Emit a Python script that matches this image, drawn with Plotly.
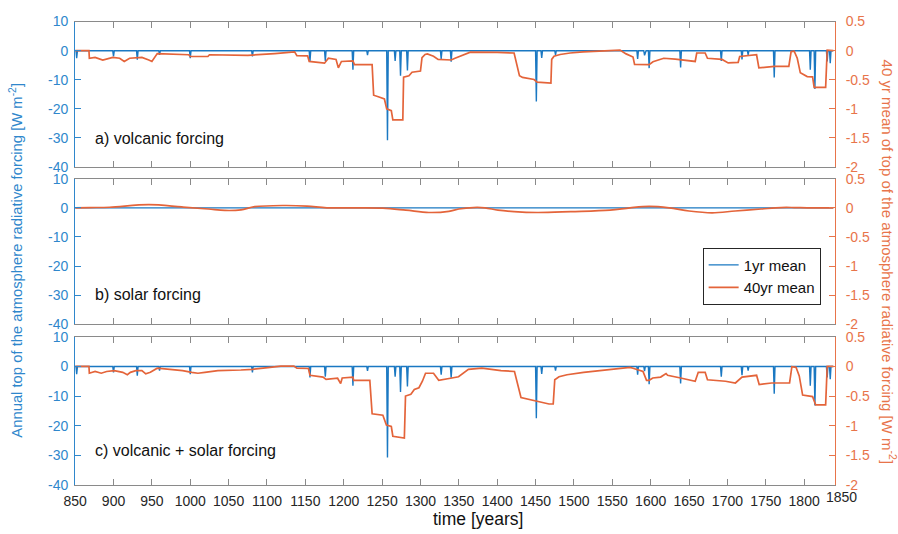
import numpy as np
import plotly.graph_objects as go

# ---------------- data ----------------
# 1-yr volcanic forcing: eruption years and annual peak forcing [W m-2]; zero otherwise
spike_years = [852, 900, 931, 960, 1000, 1081, 1156, 1176, 1212, 1231, 1257, 1267, 1274, 1283,
               1327, 1340, 1451, 1458, 1476, 1583, 1592, 1598, 1639, 1692, 1719, 1727, 1761,
               1808, 1814, 1830, 1834]
spike_values = [-2.6, -2.0, -3.1, -1.4, -2.6, -2.0, -3.7, -3.5, -6.5, -1.5, -30.8, -3.5, -8.6, -6.8,
                -2.8, -3.8, -17.5, -2.5, -1.4, -2.8, -1.6, -6.0, -5.8, -3.5, -3.0, -1.4, -9.2,
                -6.5, -13.2, -3.7, -4.3]
first_year, last_year = 850, 1838

# 40-yr mean, volcanic [W m-2] (right axis)
volc40_years = [850, 868, 868.5, 876, 886, 899, 908, 914, 921, 930, 937, 946, 950, 957, 975, 998,
                1000, 1023, 1025, 1075, 1110, 1130, 1136, 1139, 1153, 1155, 1175, 1180, 1190, 1193,
                1197, 1212, 1214, 1237, 1239, 1246, 1253, 1256, 1262, 1264, 1277, 1278, 1285, 1289,
                1300, 1302, 1306, 1309, 1317, 1323, 1340, 1345, 1360, 1365, 1400, 1422, 1429, 1433,
                1448, 1452, 1470, 1471, 1474, 1482, 1495, 1512, 1540, 1560, 1568, 1577, 1579, 1598,
                1603, 1611, 1617, 1632, 1658, 1660, 1671, 1674, 1693, 1701, 1714, 1716, 1738, 1741,
                1761, 1780, 1783, 1787, 1791, 1795, 1804, 1811, 1813, 1828, 1830, 1838]
volc40_values = [0, 0, -0.13, -0.115, -0.16, -0.115, -0.13, -0.185, -0.13, -0.115, -0.115, -0.16,
                 -0.185, -0.05, -0.06, -0.07, -0.10, -0.10, -0.07, -0.08, -0.05, -0.02, -0.02,
                 -0.085, -0.09, -0.185, -0.215, -0.13, -0.15, -0.295, -0.185, -0.175, -0.24, -0.24,
                 -0.765, -0.795, -0.83, -1.0, -1.03, -1.19, -1.19, -0.455, -0.43, -0.37, -0.35,
                 -0.12, -0.065, -0.055, -0.095, -0.15, -0.16, -0.13, -0.055, -0.025, -0.03, -0.04,
                 -0.43, -0.46, -0.495, -0.54, -0.555, -0.15, -0.095, -0.065, -0.04, -0.02, -0.005,
                 0.01, -0.055, -0.11, -0.235, -0.24, -0.19, -0.16, -0.13, -0.145, -0.185, -0.04,
                 -0.04, -0.13, -0.15, -0.21, -0.20, -0.10, -0.07, -0.295, -0.27, -0.27, -0.015,
                 -0.01, -0.13, -0.38, -0.445, -0.45, -0.63, -0.63, 0.01, 0]

# solar forcing
solar1_years = [850, 1838]
solar1_values = [0.0, 0.0]
solar40_years = [850, 869, 895, 946, 989, 1023.5, 1045, 1066, 1084, 1122, 1152, 1178, 1217, 1251,
                 1281, 1311, 1337, 1350, 1369, 1384, 1401, 1422, 1452, 1496, 1547, 1573, 1598,
                 1624, 1650, 1680, 1710, 1744, 1770, 1787, 1804, 1838]
solar40_values = [0.0, 0.005, 0.01, 0.055, 0.015, -0.02, -0.045, -0.035, 0.02, 0.04, 0.03, 0.0,
                  0.0, -0.005, -0.04, -0.08, -0.06, -0.02, 0.005, 0.0, -0.04, -0.065, -0.08,
                  -0.065, -0.04, 0.0, 0.025, 0.0, -0.055, -0.085, -0.055, -0.02, 0.005, 0.005,
                  0.0, 0.0]

# 40-yr mean, volcanic + solar
both40_years = [850, 868, 868.5, 876, 884, 891, 901, 912, 918, 922, 929, 937, 942, 948, 957, 976,
                990, 1002, 1010, 1019, 1036, 1066, 1081, 1101, 1118, 1135, 1139, 1154, 1156, 1173,
                1177, 1192, 1196, 1198, 1212, 1213, 1234, 1237, 1251, 1255.6, 1262, 1264, 1279,
                1280.5, 1287.5, 1292, 1298, 1302.5, 1306.6, 1317, 1323.8, 1341, 1349.6, 1362.5,
                1380, 1405, 1422.5, 1431, 1440, 1450, 1467.5, 1473, 1475, 1480.5, 1491, 1512.6,
                1538.5, 1573, 1577, 1590, 1594.6, 1598, 1602.7, 1613, 1620, 1622, 1639, 1658, 1662,
                1671, 1674, 1693, 1697.5, 1710.4, 1719, 1738, 1741.4, 1757.6, 1781, 1784, 1789.4,
                1793.6, 1798, 1811, 1815, 1828, 1830, 1838]
both40_values = [0.0, 0.0, -0.115, -0.085, -0.115, -0.085, -0.07, -0.10, -0.14, -0.10, -0.07,
                 -0.07, -0.125, -0.10, -0.03, -0.05, -0.07, -0.10, -0.115, -0.10, -0.07, -0.06,
                 -0.05, -0.02, 0.005, 0.005, -0.03, -0.035, -0.15, -0.18, -0.22, -0.2, -0.29,
                 -0.195, -0.18, -0.235, -0.235, -0.80, -0.825, -0.99, -1.015, -1.18, -1.21, -0.50,
                 -0.47, -0.39, -0.36, -0.25, -0.115, -0.115, -0.235, -0.195, -0.175, -0.05, -0.03,
                 -0.07, -0.085, -0.525, -0.55, -0.58, -0.635, -0.635, -0.225, -0.175, -0.14, -0.10,
                 -0.06, -0.015, -0.03, -0.085, -0.235, -0.235, -0.195, -0.18, -0.12, -0.15, -0.195,
                 -0.25, -0.10, -0.10, -0.225, -0.235, -0.25, -0.28, -0.18, -0.15, -0.305, -0.28,
                 -0.28, -0.005, -0.015, -0.16, -0.485, -0.51, -0.65, -0.65, 0.0, 0.0]

x_ticks = list(range(850, 1801, 50))
left_ticks = [-40, -30, -20, -10, 0, 10]
left_labels = ["-40", "-30", "-20", "-10", "0", "10"]
right_ticks = [-2, -1.5, -1, -0.5, 0, 0.5]
right_labels = ["-2", "-1.5", "-1", "-0.5", "0", "0.5"]
panel_titles = ["a) volcanic forcing", "b) solar forcing", "c) volcanic + solar forcing"]

# annual series built from the eruption table
annual_years = np.arange(first_year, last_year + 1)
annual_volc = np.zeros(annual_years.size)
for yr, v in zip(spike_years, spike_values):
    annual_volc[yr - first_year] = v

# ---------------- styling ----------------
W, H = 898, 534
FONT = "Liberation Sans, Arial, Helvetica, sans-serif"
BLUE_LINE = "#1a78c2"
ORANGE_LINE = "#e4643a"
BLUE_AX = "#2f87cc"
ORANGE_AX = "#e8744a"
GREY = "#8a8a8a"
TXT = "#262626"

def fx(p):
    return p / W

def fy(p):
    return 1 - p / H

panels = [(14, 164), (176, 326), (339, 491.5)]
x_dom = [fx(64), fx(834)]

fig = go.Figure()

series = [
    (annual_years, annual_volc, volc40_years, volc40_values),
    (solar1_years, solar1_values, solar40_years, solar40_values),
    (annual_years, annual_volc, both40_years, both40_values),
]

layout = dict(
    width=W, height=H, margin=dict(l=0, r=0, t=0, b=0),
    paper_bgcolor="white", plot_bgcolor="white",
    font=dict(family=FONT, size=14, color=TXT),
    showlegend=True,
    legend=dict(x=fx(700), y=fy(247), xanchor="left", yanchor="top",
                bordercolor=TXT, borderwidth=1, bgcolor="white",
                font=dict(size=15, color="#111111"), itemwidth=30,
                tracegroupgap=0),
)

annotations = []
for i, ((top, bot), (bx, by, ox, oy)) in enumerate(zip(panels, series)):
    xa = "x" if i == 0 else f"x{i+1}"
    yl = 2 * i + 1
    yr = 2 * i + 2
    yl_name = "y" if yl == 1 else f"y{yl}"
    yr_name = f"y{yr}"
    fig.add_trace(go.Scatter(x=bx, y=by, mode="lines", name="1yr mean",
                             line=dict(color=BLUE_LINE, width=1.4),
                             xaxis=xa, yaxis=yl_name, showlegend=(i == 0)))
    fig.add_trace(go.Scatter(x=ox, y=oy, mode="lines", name="40yr mean",
                             line=dict(color=ORANGE_LINE, width=1.7,
                                       shape=("spline" if i == 1 else "linear")),
                             xaxis=xa, yaxis=yr_name, showlegend=(i == 0)))
    xkey = "xaxis" if i == 0 else f"xaxis{i+1}"
    layout[xkey] = dict(
        domain=x_dom, range=[850, 1840], anchor=yl_name,
        tickvals=x_ticks, ticks="inside", ticklen=6, tickcolor=GREY, tickwidth=1,
        showline=True, linecolor=GREY, linewidth=1, mirror="ticks",
        showgrid=False, zeroline=False, showticklabels=(i == 2),
        tickfont=dict(size=14, color=TXT), ticklabelstandoff=3,
    )
    ylkey = "yaxis" if yl == 1 else f"yaxis{yl}"
    layout[ylkey] = dict(
        domain=[fy(bot), fy(top)], range=[-40, 10], anchor=xa,
        tickvals=left_ticks, ticktext=left_labels, ticks="inside", ticklen=6,
        tickcolor=BLUE_AX, showline=True, linecolor=BLUE_AX, linewidth=1,
        showgrid=False, zeroline=False, tickfont=dict(size=14, color=BLUE_AX),
        ticklabelstandoff=3,
    )
    layout[f"yaxis{yr}"] = dict(
        domain=[fy(bot), fy(top)], range=[-2, 0.5], anchor=xa, overlaying=yl_name,
        side="right", tickvals=right_ticks, ticktext=right_labels, ticks="inside",
        ticklen=6, tickcolor=ORANGE_AX, showline=True, linecolor=ORANGE_AX,
        linewidth=1, showgrid=False, zeroline=False,
        tickfont=dict(size=14, color=ORANGE_AX), ticklabelstandoff=7,
    )
    label_y = [135, 295, 456.5][i]
    annotations.append(dict(text=panel_titles[i], x=fx(82), y=fy(label_y), xref="paper",
                            yref="paper", xanchor="left", yanchor="middle", showarrow=False,
                            font=dict(size=16, color="#111111")))

# last x tick label (1850) just right of the axis end, as in the reference
annotations.append(dict(text="1850", x=fx(841), xref="paper", y=fy(493.5), yref="paper",
                        xanchor="center", yanchor="top", showarrow=False,
                        font=dict(size=14, color=TXT)))
annotations.append(dict(text="time [years]", x=fx(472), y=fy(527), xref="paper", yref="paper",
                        xanchor="center", yanchor="middle", showarrow=False,
                        font=dict(size=17.5, color="#111111")))
annotations.append(dict(text="Annual top of the atmosphere radiative forcing [W m<sup>-2</sup>]",
                        x=fx(4), y=fy(259.5), xref="paper", yref="paper", textangle=-90,
                        xanchor="center", yanchor="middle", showarrow=False,
                        font=dict(size=14.8, color=BLUE_AX)))
annotations.append(dict(text="40 yr mean of top of the atmosphere radiative forcing [W m<sup>-2</sup>]",
                        x=fx(889), y=fy(261.5), xref="paper", yref="paper", textangle=90,
                        xanchor="center", yanchor="middle", showarrow=False,
                        font=dict(size=15, color=ORANGE_AX)))
layout["annotations"] = annotations

fig.update_layout(**layout)
fig.write_html("out.html")
